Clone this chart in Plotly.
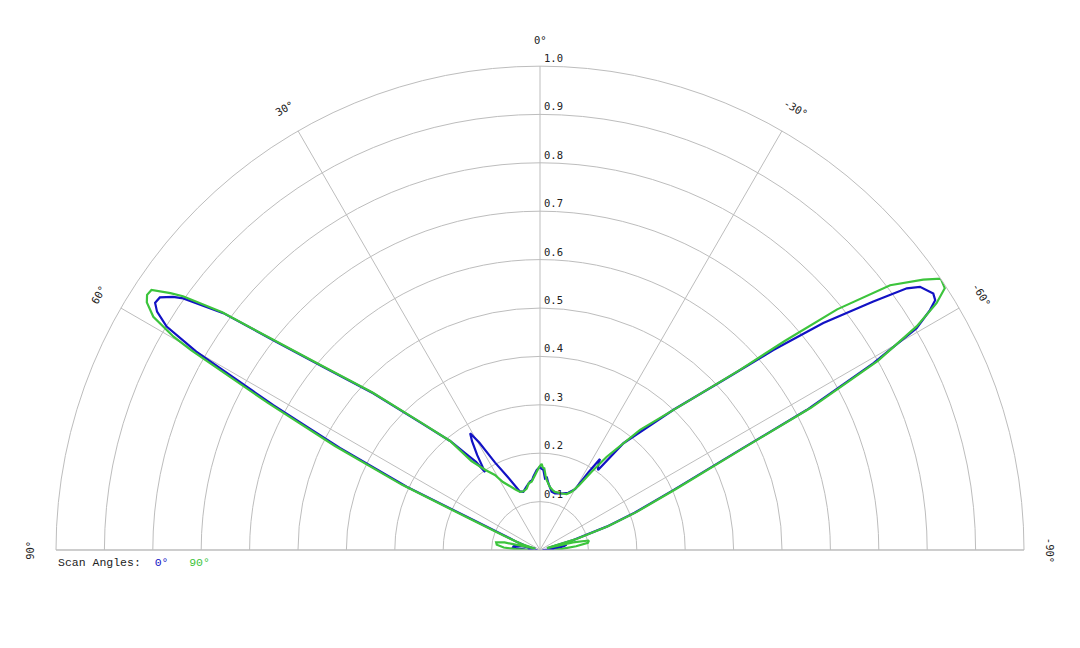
import math
import plotly.graph_objects as go

# ---- data ----
theta_0 = [90, 88, 86, 84, 82, 80, 78, 76, 74, 71,
           68.2, 65.8, 64.6, 63.0, 61.5, 60.0, 59.1, 58.1, 57.3, 56.4,
           55.4, 54.8, 53.2, 51.8, 49.8, 46.8, 42.9, 39.5, 37.5, 36.0,
           35.2, 33.5, 32.0, 30.9, 29.5, 27.2, 23.8, 19.0, 16.0, 12.0,
           8.3, 6.5, 5.2, 2.4, 0.0, -1.0, -2.4, -4.0, -5.5, -7.1,
           -11.3, -14.8, -20.9, -26.3, -30.0, -32.0, -33.4, -34.8, -36.0, -38.0,
           -43.6, -47.2, -49.4, -51.3, -53.3, -54.5, -55.3, -56.9, -57.7, -58.4,
           -59.5, -60.75, -62.3, -63.4, -65.8, -68.5, -70.7, -73.3, -75.5, -77.0,
           -78.5, -81.0, -84.0, -87.0, -90.0]
r_0 = [0.005, 0.03, 0.05, 0.056, 0.055, 0.05, 0.035, 0.01, 0.03, 0.05,
       0.074, 0.151, 0.305, 0.464, 0.627, 0.82, 0.899, 0.932, 0.945, 0.943,
       0.921, 0.902, 0.817, 0.70, 0.586, 0.473, 0.355, 0.292, 0.25, 0.225,
       0.197, 0.235, 0.265, 0.281, 0.255, 0.203, 0.165, 0.128, 0.125, 0.134,
       0.143, 0.145, 0.152, 0.165, 0.172, 0.168, 0.166, 0.148, 0.150, 0.139,
       0.123, 0.121, 0.125, 0.132, 0.145, 0.19, 0.225, 0.21, 0.204, 0.28,
       0.40, 0.516, 0.635, 0.75, 0.859, 0.931, 0.955, 0.970, 0.966, 0.946,
       0.903, 0.789, 0.622, 0.462, 0.302, 0.21, 0.146, 0.072, 0.015, 0.045,
       0.056, 0.05, 0.035, 0.02, 0.005]

theta_90 = [90, 88, 86, 83, 80, 78, 76.5, 75, 72, 68.5,
            66.0, 64.7, 63.1, 61.6, 60.2, 59.8, 58.9, 57.8, 57.0, 56.2,
            55.2, 54.6, 53.2, 51.8, 49.8, 46.8, 42.9, 39.5, 37.6, 34.3,
            31.0, 28.6, 26.0, 22.0, 18.9, 15.5, 12.2, 9.5, 7.0, 4.5,
            2.4, 0.5, -1.1, -2.0, -3.0, -4.2, -5.5, -8.9, -11.5, -14.4,
            -20.9, -25.5, -28.5, -31.0, -33.5, -35.6, -39.8, -45.0, -48.0, -49.5,
            -51.0, -52.9, -54.8, -55.9, -57.1, -58.1, -59.3, -60.75, -62.3, -63.4,
            -65.8, -68.5, -70.7, -73.2, -75.0, -77.0, -79.0, -81.5, -84.0, -87.0,
            -90.0]
r_90 = [0.025, 0.05, 0.075, 0.09, 0.092, 0.075, 0.03, 0.01, 0.04, 0.08,
        0.16, 0.315, 0.475, 0.64, 0.83, 0.876, 0.933, 0.96, 0.968, 0.966,
        0.93, 0.905, 0.82, 0.705, 0.59, 0.476, 0.357, 0.292, 0.232, 0.20,
        0.181, 0.16, 0.149, 0.135, 0.127, 0.126, 0.13, 0.14, 0.142, 0.152,
        0.162, 0.172, 0.178, 0.17, 0.169, 0.155, 0.145, 0.132, 0.127, 0.124,
        0.125, 0.128, 0.137, 0.155, 0.195, 0.237, 0.323, 0.438, 0.556, 0.665,
        0.79, 0.907, 0.969, 1.0, 0.996, 0.965, 0.905, 0.80, 0.632, 0.47,
        0.31, 0.215, 0.15, 0.08, 0.015, 0.07, 0.103, 0.1, 0.075, 0.045,
        0.03]

radial_ticks = [0.1, 0.2, 0.3, 0.4, 0.5, 0.6, 0.7, 0.8, 0.9, 1.0]
radial_labels = ["0.1", "0.2", "0.3", "0.4", "0.5", "0.6", "0.7", "0.8", "0.9", "1.0"]
angle_ticks = [-90, -60, -30, 0, 30, 60, 90]
angle_labels = ["-90°", "-60°", "-30°", "0°", "30°", "60°", "90°"]
series_names = ["0°", "90°"]

BLUE = "#1212c4"
GREEN = "#3cc43c"
GRID = "#bdbdbd"
TICKFONT = dict(family="DejaVu Sans Mono, monospace", size=10.5, color="#222222")

# the page body adds an 8px offset; margins compensate so the plot area sits
# at x 56..1024, y 66..550 of the window
W, H = 1080, 648
ML, MR, MT, MB = 48, 64, 58, 106

fig = go.Figure()
fig.add_trace(go.Scatterpolar(r=r_0, theta=theta_0, mode="lines",
                              line=dict(color=BLUE, width=2.2), name=series_names[0]))
fig.add_trace(go.Scatterpolar(r=r_90, theta=theta_90, mode="lines",
                              line=dict(color=GREEN, width=2.2), name=series_names[1]))

annotations = []
px_w = W - ML - MR
px_h = H - MT - MB
# radial labels along the 0 deg spoke
for v, lab in zip(radial_ticks, radial_labels):
    annotations.append(dict(x=0.5 + 2.0 / px_w, y=v, xref="paper", yref="paper",
                            text=lab, showarrow=False, xanchor="left", yanchor="bottom",
                            font=TICKFONT, yshift=0))
# angular labels, rotated tangentially
rr = 1.054
for a, lab in zip(angle_ticks, angle_labels):
    rad = math.radians(a)
    annotations.append(dict(x=0.5 - 0.5 * rr * math.sin(rad), y=rr * math.cos(rad),
                            xref="paper", yref="paper", text=lab, showarrow=False,
                            xanchor="center", yanchor="middle", textangle=-a,
                            font=TICKFONT))
# legend line
annotations.append(dict(x=0.0, y=-12.0 / px_h, xref="paper", yref="paper",
                        xanchor="left", yanchor="middle", showarrow=False,
                        text=("Scan Angles:\u00a0\u00a0<span style='color:%s'>%s</span>"
                              "\u00a0\u00a0\u00a0<span style='color:%s'>%s</span>")
                        % (BLUE, series_names[0], GREEN, series_names[1]),
                        font=dict(family="Courier New, Liberation Mono, monospace",
                                  size=11.5, color="#222222")))

fig.update_layout(
    width=W, height=H,
    margin=dict(l=ML, r=MR, t=MT, b=MB),
    paper_bgcolor="white",
    showlegend=False,
    polar=dict(
        domain=dict(x=[0, 1], y=[0, 1]),
        sector=[0, 180],
        bgcolor="white",
        angularaxis=dict(rotation=90, direction="counterclockwise",
                         tickmode="array", tickvals=angle_ticks,
                         showticklabels=False, ticks="",
                         showgrid=True, gridcolor=GRID, gridwidth=1,
                         showline=True, linecolor=GRID, linewidth=1),
        radialaxis=dict(range=[0, 1], tickmode="array", tickvals=radial_ticks,
                        showticklabels=False, ticks="", angle=90,
                        showgrid=True, gridcolor=GRID, gridwidth=1,
                        showline=False),
    ),
    annotations=annotations,
)

fig.write_html("out.html")
